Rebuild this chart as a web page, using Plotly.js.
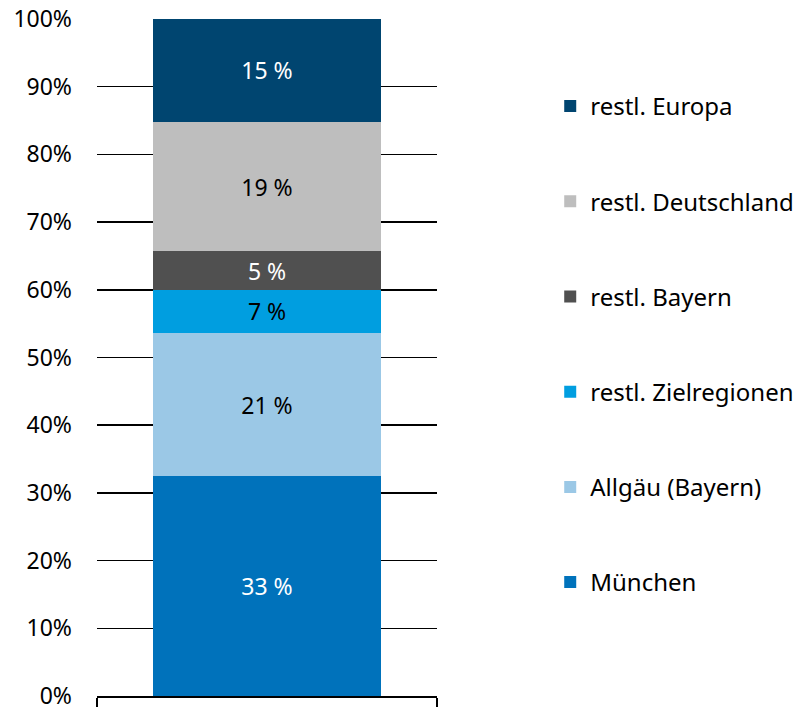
<!DOCTYPE html>
<html>
<head>
<meta charset="utf-8">
<script src="https://cdn.plot.ly/plotly-3.0.1.min.js"></script>
<style>html,body{margin:0;padding:0;background:#fff;}#chart{width:793px;height:707px;}</style>
</head>
<body>
<div id="chart"></div>
<script>
// Data (bottom to top)
const seriesNames = ["München", "Allgäu (Bayern)", "restl. Zielregionen", "restl. Bayern", "restl. Deutschland", "restl. Europa"];
const seriesValues = [32.5, 21.1, 6.4, 5.7, 19.1, 15.2];
const seriesLabels = ["33 %", "21 %", "7 %", "5 %", "19 %", "15 %"];
const seriesColors = ["#0072bb", "#9bc8e6", "#009ee0", "#505050", "#bebebe", "#004570"];
const labelColors = ["#ffffff", "#000000", "#000000", "#ffffff", "#000000", "#ffffff"];
const yTickVals = [0, 10, 20, 30, 40, 50, 60, 70, 80, 90, 100];
const yTickText = ["0%", "10%", "20%", "30%", "40%", "50%", "60%", "70%", "80%", "90%", "100%"];

const FONT = "'Noto Sans', 'Open Sans', sans-serif";
const nSeries = seriesNames.length;

const traces = seriesNames.map((name, i) => ({
  type: "bar",
  name: name,
  x: [0],
  y: [seriesValues[i]],
  text: [seriesLabels[i]],
  textposition: "inside",
  insidetextanchor: "middle",
  textfont: { family: FONT, size: 23, color: labelColors[i] },
  marker: { color: seriesColors[i], line: { width: 0 } },
  width: 0.668,
  legendgroup: "g" + i,
  legendrank: (nSeries - i) * 10,
  hoverinfo: "skip"
}));

const layout = {
  width: 793,
  height: 707,
  margin: { l: 97, r: 356, t: 19, b: 11, pad: 0, autoexpand: false },
  paper_bgcolor: "#ffffff",
  plot_bgcolor: "#ffffff",
  barmode: "stack",
  showlegend: true,
  font: { family: FONT, color: "#000000" },
  xaxis: {
    range: [-0.5, 0.5],
    tickmode: "array",
    tickvals: [-0.5, 0.5],
    ticktext: ["", ""],
    ticks: "outside",
    ticklen: 12,
    tickwidth: 1.5,
    tickcolor: "#000000",
    showline: true,
    linecolor: "#000000",
    linewidth: 1.5,
    showgrid: false,
    zeroline: false,
    fixedrange: true
  },
  yaxis: {
    range: [0, 100],
    tickmode: "array",
    tickvals: yTickVals,
    ticktext: yTickText,
    ticks: "",
    ticklabelstandoff: 24,
    ticklabeloverflow: "allow",
    tickfont: { family: FONT, size: 23, color: "#000000" },
    showgrid: true,
    gridcolor: "#000000",
    gridwidth: 1.5,
    zeroline: false,
    showline: false,
    fixedrange: true
  },
  legend: {
    x: 1.333,
    xanchor: "left",
    y: 0.904,
    yanchor: "top",
    traceorder: "grouped",
    tracegroupgap: 61,
    font: { family: FONT, size: 24, color: "#000000" },
    bgcolor: "rgba(0,0,0,0)",
    itemwidth: 30
  }
};

Plotly.newPlot("chart", traces, layout, { staticPlot: true, displayModeBar: false });
</script>
</body>
</html>
